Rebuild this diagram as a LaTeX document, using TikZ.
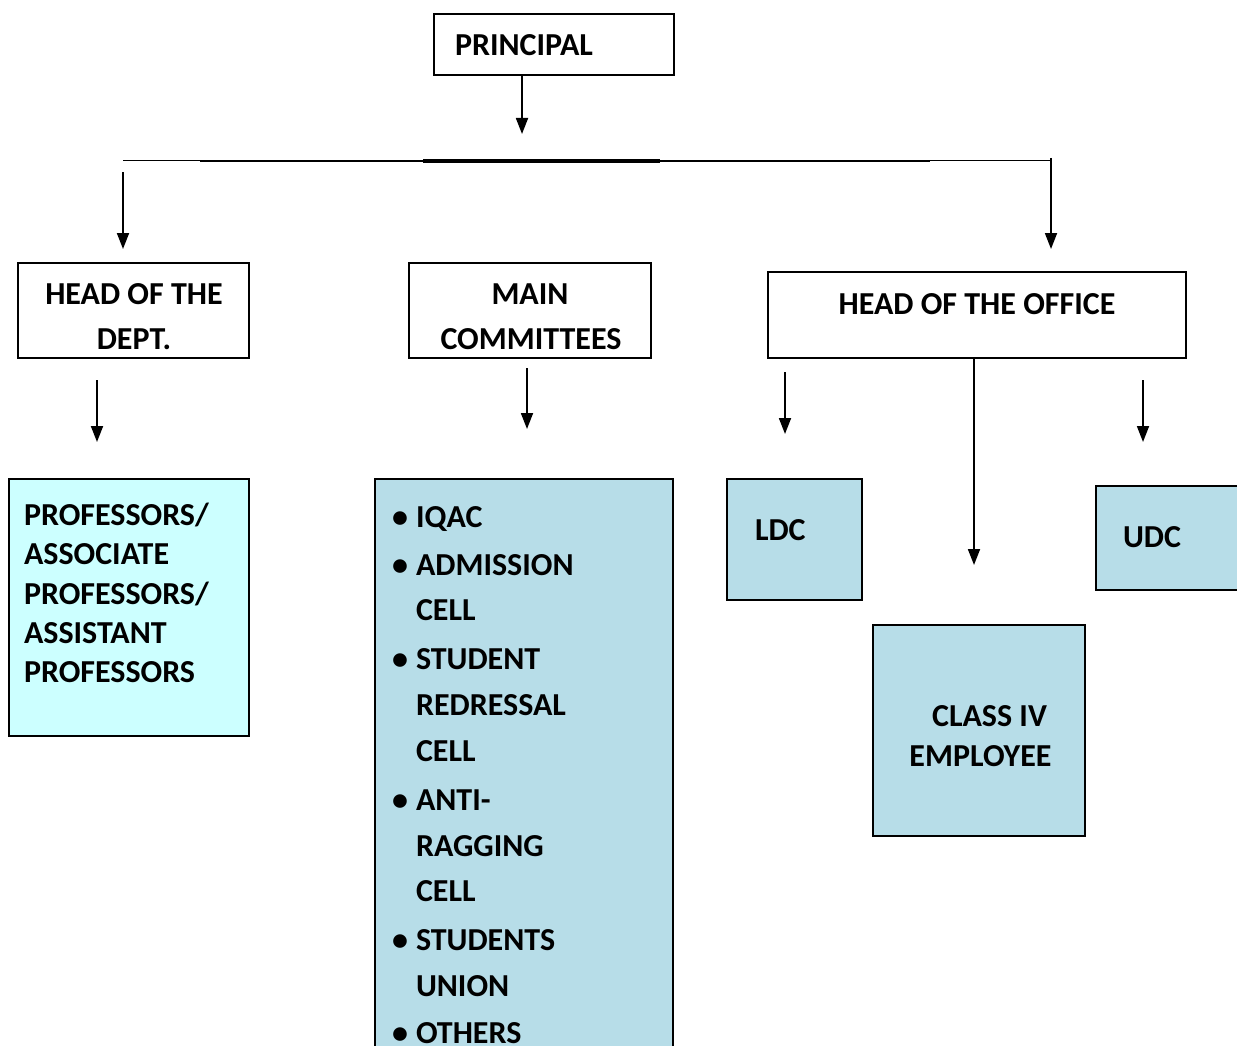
\documentclass[tikz,border=0pt]{standalone}
\usepackage{fontspec}
\setmainfont{Carlito}
\usetikzlibrary{arrows.meta}
\definecolor{boxblue}{HTML}{B7DDE8}
\definecolor{boxcyan}{HTML}{CCFFFF}
\begin{document}
\begin{tikzpicture}[x=1pt,y=-1pt,
  every node/.style={inner sep=0pt,outer sep=0pt},
  txt/.style={font=\fontsize{32}{38}\selectfont\bfseries},
  frame/.style={draw=black,line width=1.4pt,fill=white},
  bluebox/.style={draw=black,line width=1.2pt,fill=boxblue},
  cyanbox/.style={draw=black,line width=1.2pt,fill=boxcyan},
  conn/.style={line width=1.8pt,-{Triangle[width=12pt,length=16pt]}}]
\useasboundingbox (0,0) rectangle (1237,1046);
\fill[white] (0,0) rectangle (1237,1046);

% boxes
\node[frame,minimum width=240pt,minimum height=61pt] (principal) at (554,44.5) {};
\node[frame,minimum width=231pt,minimum height=95pt] (hod) at (133.5,310.5) {};
\node[frame,minimum width=242pt,minimum height=95pt] (mc) at (530,310.5) {};
\node[frame,minimum width=418pt,minimum height=86pt] (hoo) at (977,315) {};
\node[cyanbox,minimum width=240pt,minimum height=257pt] (prof) at (129,607.5) {};
\node[bluebox,minimum width=298pt,minimum height=620pt] (list) at (524,789) {};
\node[bluebox,minimum width=135pt,minimum height=121pt] (ldc) at (794.5,539.5) {};
\node[bluebox,minimum width=160pt,minimum height=104pt] (udc) at (1176,538) {};
\node[bluebox,minimum width=212pt,minimum height=211pt] (cls) at (979,730.5) {};

% texts
\node[txt,anchor=base west] (tprincipal) at (455,56) {PRINCIPAL};
\node[txt,anchor=base] (thod1) at (134,304) {HEAD OF THE};
\node[txt,anchor=base] (thod2) at (134,349) {DEPT.};
\node[txt,anchor=base] (tmc1) at (530,304) {MAIN};
\node[txt,anchor=base] (tmc2) at (531,349) {COMMITTEES};
\node[txt,anchor=base] (thoo) at (977,314) {HEAD OF THE OFFICE};
\node[txt,anchor=base west] (tp1) at (24,525) {PROFESSORS/};
\node[txt,anchor=base west] (tp2) at (24,564) {ASSOCIATE};
\node[txt,anchor=base west] (tp3) at (24,604) {PROFESSORS/};
\node[txt,anchor=base west] (tp4) at (24,643) {ASSISTANT};
\node[txt,anchor=base west] (tp5) at (24,682) {PROFESSORS};
\node[txt,anchor=base west] (tldc) at (755,540) {LDC};
\node[txt,anchor=base west] (tudc) at (1123,547) {UDC};
\node[txt,anchor=base] (tcls1) at (989.5,726) {CLASS IV};
\node[txt,anchor=base] (tcls2) at (980.5,766) {EMPLOYEE};

% list
\foreach \y/\t [count=\i] in {527/IQAC,575/ADMISSION,620/CELL,669/STUDENT,715/REDRESSAL,761/CELL,810/ANTI-,856/RAGGING,901/CELL,950/STUDENTS,996/UNION,1043/OTHERS}
  \node[txt,anchor=base west] (li\i) at (416,\y) {\t};
\foreach \y [count=\i] in {527,575,669,810,950,1043}
  \node[txt,anchor=base] (bu\i) at (400,\y) {•};

% coordinates
\coordinate (p1) at (522,75);
\coordinate (p2) at (522,134);
\coordinate (hL) at (123,161);
\coordinate (hR) at (1051,161);
\coordinate (hRtop) at (1051,158);
\coordinate (l1) at (123,172);
\coordinate (l2) at (123,249);
\coordinate (r2) at (1051,249);
\coordinate (a1) at (97,380);
\coordinate (a2) at (97,442);
\coordinate (b1) at (527,368);
\coordinate (b2) at (527,429);
\coordinate (c1) at (785,372);
\coordinate (c2) at (785,434);
\coordinate (d2) at (974,565);
\coordinate (e1) at (1143,380);
\coordinate (e2) at (1143,442);

% connectors
\draw[conn] (p1) -- (p2);
\draw[line width=1pt] (hL) -- (hR);
\draw[line width=2pt] (200,161) -- (930,161);
\draw[line width=3.2pt] (423,161) -- (660,161);
\draw[conn] (hRtop) -- (r2);
\draw[conn] (l1) -- (l2);
\draw[conn] (a1) -- (a2);
\draw[conn] (b1) -- (b2);
\draw[conn] (c1) -- (c2);
\draw[conn] (hoo.south -| d2) -- (d2);
\draw[conn] (e1) -- (e2);
\end{tikzpicture}
\end{document}
